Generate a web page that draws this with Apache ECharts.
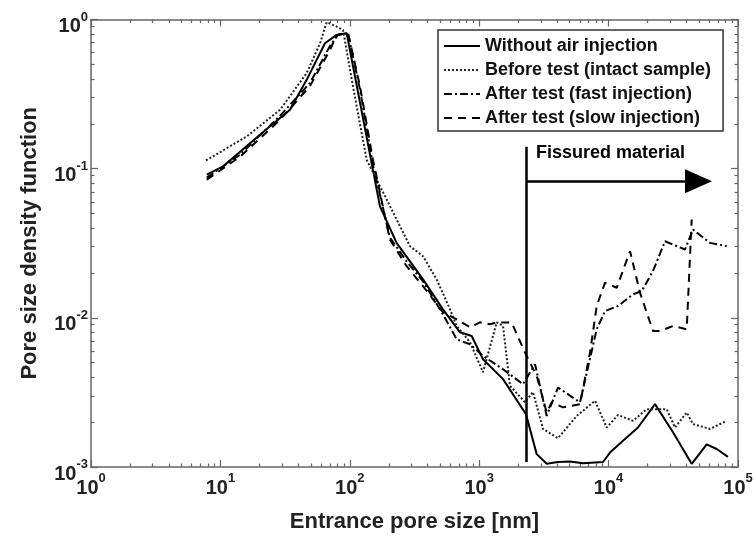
<!DOCTYPE html>
<html><head><meta charset="utf-8">
<script src="https://cdn.jsdelivr.net/npm/echarts@6/dist/echarts.min.js"></script>
<style>html,body{margin:0;padding:0;background:#fff}#c{width:756px;height:538px}</style>
</head><body><div id="c"></div>
<script>
// ---- data ----
const seriesNames = ['Without air injection','Before test (intact sample)','After test (fast injection)','After test (slow injection)'];

const xSolid = [7.84,10.5,20.2,34.5,46.4,64.3,79.2,94.6,171,230,368,525,711,875,1070,1528,2300,2782,3324,4064,5030,6340,9050,10250,12920,16870,22840,31450,43870,57300,68450,83700];
const ySolid = [0.0912,0.1036,0.1688,0.248,0.394,0.693,0.788,0.809,0.0559,0.0318,0.0181,0.0114,0.0080,0.00755,0.00528,0.00388,0.00226,0.00122,0.00105,0.00108,0.00109,0.00106,0.00108,0.00125,0.0015,0.00184,0.00264,0.00171,0.00105,0.00142,0.00132,0.00117];

const xBefore = [7.74,15.97,28.9,46.4,58.9,66.3,79.2,88.6,105.9,135,193,292,368,469,595,670,849,1070,1366,1528,1730,2259,2604,3112,4064,5670,7852,9670,11820,15440,19700,28120,32600,40140,44900,60750,81800];
const yBefore = [0.1136,0.1644,0.248,0.4367,0.693,0.96,0.895,0.851,0.355,0.1148,0.062,0.0302,0.0259,0.0181,0.0114,0.00881,0.00686,0.00432,0.00933,0.00881,0.0035,0.00272,0.00318,0.0018,0.00156,0.0022,0.00278,0.00184,0.00223,0.00204,0.00244,0.00244,0.00184,0.00232,0.00194,0.0018,0.00204];

const xFast = [7.84,14.2,28.9,49.3,70.3,81,96.9,120,151,204,275,368,525,670,849,1070,1528,2180,2700,3324,4064,6011,8091,9380,11820,15440,18020,22040,27290,38940,44900,60750,81800];
const yFast = [0.0871,0.124,0.2262,0.376,0.665,0.788,0.812,0.3377,0.1063,0.0346,0.0239,0.01755,0.01055,0.00718,0.00665,0.00556,0.00452,0.00359,0.00489,0.0022,0.00341,0.00271,0.00838,0.0111,0.012,0.01437,0.0151,0.0206,0.0326,0.0287,0.0391,0.0318,0.0302];

const xSlow = [7.84,14.2,28.9,49.3,70.3,79.2,96.9,120,151,204,275,368,525,670,849,1014,1212,1366,1783,2259,2782,3324,3633,4442,6011,7183,8091,9380,11550,14640,17480,22040,24960,31450,40140,43870];
const ySlow = [0.0844,0.1203,0.2127,0.359,0.625,0.788,0.812,0.355,0.1148,0.0335,0.0222,0.0163,0.01088,0.00977,0.00864,0.00933,0.00905,0.00933,0.00929,0.00585,0.00408,0.00232,0.00271,0.00251,0.00264,0.00585,0.0120,0.0172,0.0159,0.028,0.01475,0.00816,0.00816,0.00881,0.00838,0.0456];

// annotation: fissure boundary and arrow
const fissureX = 2300;
const fissureYRange = [0.14, 0.00108];
const arrowY = 0.0822;
const arrowXEnd = 49500;
const annotationText = 'Fissured material';

const xDecades = [1,10,100,1000,10000,100000];
const yDecades = [0.001,0.01,0.1,1];
const xMinor = []; for (let d=1; d<1e5; d*=10) for (let k=2;k<=9;k++) xMinor.push(d*k);
const yMinor = []; for (let d=0.001; d<0.9; d*=10) for (let k=2;k<=9;k++) yMinor.push(+(d*k).toPrecision(3));

const xTitle = 'Entrance pore size [nm]';
const yTitle = 'Pore size density function';

// ---- chart ----
const FONT = 'Liberation Sans, Arial, sans-serif';
const AX = '#666';
function zip(a,b){ return a.map((v,i)=>[v,b[i]]); }
const rich = {
  b:{fontSize:20,fontWeight:'bold',fontFamily:FONT,color:'#222',verticalAlign:'bottom',lineHeight:26},
  s:{fontSize:13,fontWeight:'bold',fontFamily:FONT,color:'#222',verticalAlign:'top',lineHeight:26}
};
function powLabel(v){ const e=Math.round(Math.log10(v)); return '{b|10}{s|'+e+'}'; }

function mkAxis(type, pos, minV, maxV, major, labels, extra){
  const base = {
    type:'log', position:pos, min:minV, max:maxV, logBase:10, gridIndex:0,
    splitLine:{show:false},
    axisLine:{show:major, lineStyle:{color:AX,width:1.5}},
    axisTick:{show:true, inside:true, length: major?7:3.5, lineStyle:{color:AX,width:1.2},
      customValues: major ? (type==='x'?xDecades:yDecades) : (type==='x'?xMinor:yMinor)},
    axisLabel:{show:labels, formatter:powLabel, rich:rich, margin: type==='x'?5:3,
      padding: type==='x'?0:[8,0,0,0],
      customValues: type==='x'?xDecades:yDecades}
  };
  return Object.assign(base, extra||{});
}

const chart = echarts.init(document.getElementById('c'), null, {renderer:'canvas'});
const lineBase = {type:'line', showSymbol:false, symbol:'none', smooth:false, xAxisIndex:0, yAxisIndex:0, z:3};

chart.setOption({
  animation:false,
  backgroundColor:'#fff',
  grid:{left:91, right:18, top:19.5, bottom:70, containLabel:false},
  legend:{
    data:seriesNames, orient:'vertical', left:438, top:30,
    padding:[7,12,4,5], itemGap:6, itemWidth:36, itemHeight:14,
    borderColor:'#333', borderWidth:1.5, backgroundColor:'#fff',
    itemStyle:{opacity:0},
    textStyle:{fontSize:18,fontWeight:'bold',fontFamily:FONT,color:'#111'},
    z:10
  },
  xAxis:[
    mkAxis('x','bottom',1,1e5,true,true,{name:xTitle, nameLocation:'middle', nameGap:44,
      nameTextStyle:{fontSize:22,fontWeight:'bold',fontFamily:FONT,color:'#222'}}),
    mkAxis('x','bottom',1,1e5,false,false),
    mkAxis('x','top',1,1e5,true,false),
    mkAxis('x','top',1,1e5,false,false)
  ],
  yAxis:[
    mkAxis('y','left',0.001,1,true,true,{name:yTitle, nameLocation:'middle', nameGap:50, nameRotate:90,
      nameTextStyle:{fontSize:22,fontWeight:'bold',fontFamily:FONT,color:'#222'}}),
    mkAxis('y','left',0.001,1,false,false),
    mkAxis('y','right',0.001,1,true,false),
    mkAxis('y','right',0.001,1,false,false)
  ],
  series:[
    Object.assign({}, lineBase, {name:seriesNames[0], data:zip(xSolid,ySolid), lineStyle:{color:'#000',width:2,type:'solid'}, itemStyle:{color:'#000'}}),
    Object.assign({}, lineBase, {name:seriesNames[1], data:zip(xBefore,yBefore), lineStyle:{color:'#222',width:2,type:[2,2]}, itemStyle:{color:'#222'}}),
    Object.assign({}, lineBase, {name:seriesNames[2], data:zip(xFast,yFast), lineStyle:{color:'#000',width:2,type:[8,3,2,3]}, itemStyle:{color:'#000'}}),
    Object.assign({}, lineBase, {name:seriesNames[3], data:zip(xSlow,ySlow), lineStyle:{color:'#000',width:2,type:[8,6]}, itemStyle:{color:'#000'}}),
    Object.assign({}, lineBase, {name:'annot', data:[], silent:true,
      markLine:{silent:true, animation:false, symbol:['none','none'], label:{show:false},
        lineStyle:{color:'#000',width:2.5,type:'solid'},
        data:[
          [{coord:[fissureX,fissureYRange[0]]},{coord:[fissureX,fissureYRange[1]]}],
          [{coord:[fissureX,arrowY],symbol:'none'},{coord:[arrowXEnd,arrowY],symbol:'triangle',symbolSize:[24,27],symbolRotate:-90}]
        ]}})
  ],
  graphic:[{type:'text', left:536, top:144, z:20,
    style:{text:annotationText, font:'bold 18px '+FONT, fill:'#000'}}]
});
</script></body></html>
